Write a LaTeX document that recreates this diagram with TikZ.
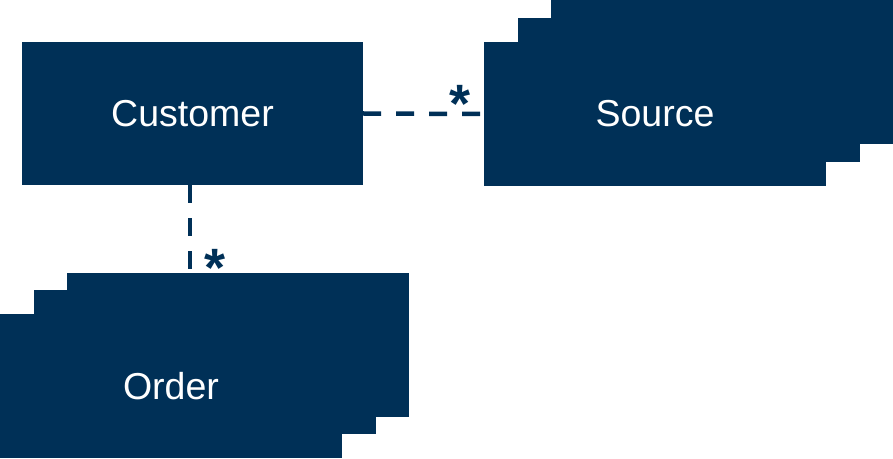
\documentclass[tikz,border=0pt]{standalone}
\usepackage{fontspec}
\setmainfont{Liberation Sans}
\definecolor{navy}{RGB}{0,48,87}
\tikzset{
  entity/.style={rectangle, fill=navy, minimum width=342pt, minimum height=144pt, inner sep=0pt, text=white, font=\fontsize{37.5}{44}\selectfont},
  assoc/.style={navy, line width=4.5pt, dash pattern=on 18pt off 15pt},
  mult/.style={navy, inner sep=0pt, font=\fontsize{54}{60}\selectfont\bfseries}
}
\begin{document}
\begin{tikzpicture}[x=1pt,y=1pt]
  \useasboundingbox (0,0) rectangle (893,458);
  % stacked sources
  \node[entity] (source3) at (722,386) {};
  \node[entity] (source2) at (689,368) {};
  \node[entity] (source) at (655,344) {Source};
  % stacked orders
  \node[entity] (order3) at (238,113) {};
  \node[entity] (order2) at (205,96) {};
  \node[entity] (order) at (171,72) {Order};
  \node[entity, minimum width=341pt, minimum height=143pt] (customer) at (192.5,344.5) {Customer};
  \draw[assoc] (customer.east) -- (source.west)
    node[mult, pos=1, xshift=-24pt, yshift=10pt] {*};
  \draw[assoc] ([xshift=-2.5pt]customer.south) -- ([xshift=-2.5pt]customer.south |- order3.north)
    node[mult, pos=1, xshift=25pt, yshift=5pt] {*};
\end{tikzpicture}
\end{document}
